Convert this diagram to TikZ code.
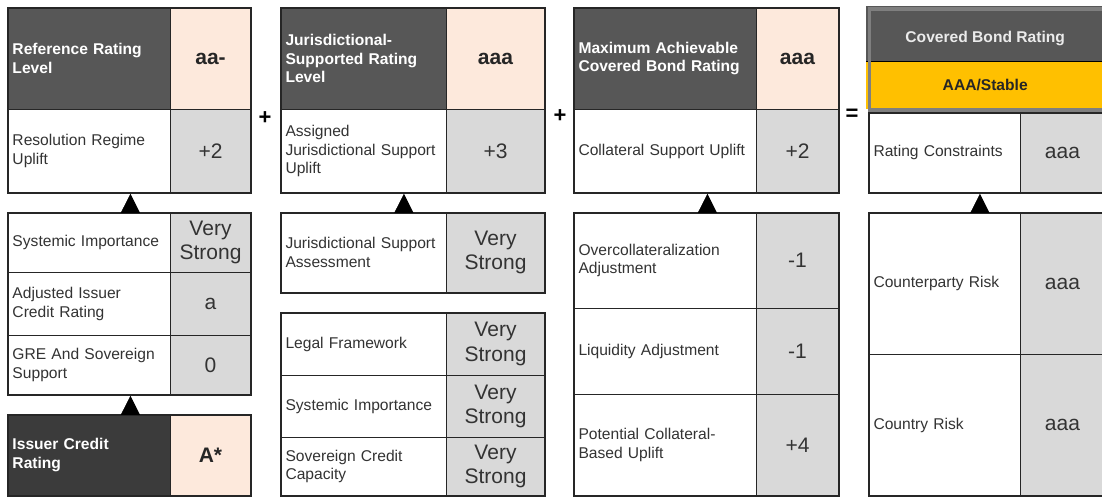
\documentclass[tikz,border=0pt]{standalone}
\usepackage{fontspec}
\setmainfont{Liberation Sans}
\usetikzlibrary{arrows.meta}

\definecolor{lineclr}{HTML}{262626}
\definecolor{txtclr}{HTML}{333333}
\definecolor{hdrgray}{HTML}{575757}
\definecolor{hdrdark}{HTML}{3B3B3B}
\definecolor{peach}{HTML}{FDE9DC}
\definecolor{valgray}{HTML}{D9D9D9}
\definecolor{gold}{HTML}{FFC000}
\definecolor{framegray}{HTML}{7F7F7F}
\newcommand{\labfont}{\fontsize{15.6}{18.8}\selectfont}
\newcommand{\valfont}{\fontsize{21}{24.5}\selectfont}

\begin{document}
\begin{tikzpicture}[
    x=1pt, y=-1pt,
    cell/.style={draw=lineclr, line width=1pt, inner sep=0pt, inner xsep=5pt, anchor=north west},
    lab/.style 2 args={cell, fill=white, text=txtclr, font=\labfont, align=left,
        minimum width=#1, text width=#1-10pt, minimum height=#2},
    val/.style 2 args={cell, fill=valgray, text=txtclr, font=\valfont, align=center,
        minimum width=#1, text width=#1-10pt, minimum height=#2},
    hdr/.style 2 args={lab={#1}{#2}, fill=hdrgray, text=white, font=\bfseries\labfont},
    hval/.style 2 args={val={#1}{#2}, fill=peach, text=black!85, font=\bfseries\valfont},
    box/.style 2 args={draw=lineclr, line width=1.8pt, inner sep=0pt, anchor=north west,
        minimum width=#1, minimum height=#2},
    op/.style={font=\bfseries\fontsize{22}{22}\selectfont, inner sep=0pt},
    tri/.style={-{Triangle[width=19pt, length=19pt]}, line width=0.6pt, black}
]
    \useasboundingbox (0,0) rectangle (1102,497);

    % Column 1: reference rating level
    \node[hdr={163pt}{102pt}] (c1h) at (7,7) {Reference Rating\\Level};
    \node[hval={80pt}{102pt}] (c1hv) at (170,7) {aa-};
    \node[lab={163pt}{83pt}] (c1r) at (7,109) {Resolution Regime\\Uplift};
    \node[val={80pt}{83pt}] (c1rv) at (170,109) {+2};
    \node[lab={163pt}{60pt}] (c1a) at (7,212) {Systemic Importance};
    \node[val={80pt}{60pt}] (c1av) at (170,212) {Very\\Strong};
    \node[lab={163pt}{63pt}] (c1b) at (7,272) {Adjusted Issuer\\Credit Rating};
    \node[val={80pt}{63pt}] (c1bv) at (170,272) {a};
    \node[lab={163pt}{59pt}] (c1c) at (7,335) {GRE And Sovereign\\Support};
    \node[val={80pt}{59pt}] (c1cv) at (170,335) {0};
    \node[hdr={163pt}{81pt}, fill=hdrdark] (c1i) at (7,414) {Issuer Credit\\Rating};
    \node[hval={80pt}{81pt}] (c1iv) at (170,414) {A*};
    \node[box={243pt}{185pt}] (c1top) at (7,7) {};
    \node[box={243pt}{182pt}] (c1mid) at (7,212) {};
    \node[box={243pt}{81pt}] (c1bot) at (7,414) {};

    % Column 2: jurisdictional support
    \node[hdr={166pt}{102pt}] (c2h) at (280,7) {Jurisdictional-\\Supported Rating\\Level};
    \node[hval={98pt}{102pt}] (c2hv) at (446,7) {aaa};
    \node[lab={166pt}{83pt}] (c2r) at (280,109) {Assigned\\Jurisdictional Support\\Uplift};
    \node[val={98pt}{83pt}] (c2rv) at (446,109) {+3};
    \node[lab={166pt}{80pt}] (c2s) at (280,212) {Jurisdictional Support\\Assessment};
    \node[val={98pt}{80pt}] (c2sv) at (446,212) {Very\\Strong};
    \node[lab={166pt}{63pt}] (c2a) at (280,312) {Legal Framework};
    \node[val={98pt}{63pt}] (c2av) at (446,312) {Very\\Strong};
    \node[lab={166pt}{62pt}] (c2b) at (280,375) {Systemic Importance};
    \node[val={98pt}{62pt}] (c2bv) at (446,375) {Very\\Strong};
    \node[lab={166pt}{58pt}] (c2c) at (280,437) {Sovereign Credit\\Capacity};
    \node[val={98pt}{58pt}] (c2cv) at (446,437) {Very\\Strong};
    \node[box={264pt}{185pt}] (c2top) at (280,7) {};
    \node[box={264pt}{80pt}] (c2mid) at (280,212) {};
    \node[box={264pt}{183pt}] (c2bot) at (280,312) {};

    % Column 3: collateral support
    \node[hdr={183pt}{102pt}] (c3h) at (573,7) {Maximum Achievable\\Covered Bond Rating};
    \node[hval={82pt}{102pt}] (c3hv) at (756,7) {aaa};
    \node[lab={183pt}{83pt}] (c3r) at (573,109) {Collateral Support Uplift};
    \node[val={82pt}{83pt}] (c3rv) at (756,109) {+2};
    \node[lab={183pt}{96pt}] (c3a) at (573,212) {Overcollateralization\\Adjustment};
    \node[val={82pt}{96pt}] (c3av) at (756,212) {-1};
    \node[lab={183pt}{86pt}] (c3b) at (573,308) {Liquidity Adjustment};
    \node[val={82pt}{86pt}] (c3bv) at (756,308) {-1};
    \node[lab={183pt}{101pt}] (c3c) at (573,394) {Potential Collateral-\\Based Uplift};
    \node[val={82pt}{101pt}] (c3cv) at (756,394) {+4};
    \node[box={265pt}{185pt}] (c3top) at (573,7) {};
    \node[box={265pt}{283pt}] (c3mid) at (573,212) {};

    % Column 4: covered bond rating
    \node[anchor=north west, fill=hdrgray, text=white!92!black, font=\bfseries\labfont,
        minimum width=238pt, minimum height=55pt, inner sep=0pt,
        text height=22pt, text depth=3.5pt] (c4h) at (866,6) {Covered Bond Rating};
    \node[anchor=north west, fill=gold, text=black!85, font=\bfseries\labfont,
        minimum width=238pt, minimum height=48pt, inner sep=0pt] (c4y) at (866,61) {AAA/Stable};
    \draw[black, line width=1.6pt] (c4h.south west) -- (c4h.south east);
    \node[draw=framegray, line width=3.5pt, anchor=north west, inner sep=0pt,
        minimum width=240pt, minimum height=101pt] (c4frame) at (867.5,7.5) {};
    \node[lab={152pt}{80pt}, inner xsep=4pt] (c4r) at (868,112) {Rating Constraints};
    \node[val={84pt}{80pt}] (c4rv) at (1020,112) {aaa};
    \node[lab={152pt}{142pt}, inner xsep=4pt] (c4a) at (868,212) {Counterparty Risk};
    \node[val={84pt}{142pt}] (c4av) at (1020,212) {aaa};
    \node[lab={152pt}{141pt}, inner xsep=4pt] (c4b) at (868,354) {Country Risk};
    \node[val={84pt}{141pt}] (c4bv) at (1020,354) {aaa};
    \node[box={236pt}{80pt}] (c4top) at (868,112) {};
    \node[box={236pt}{283pt}] (c4mid) at (868,212) {};

    % Operators
    \node[op] (plus1) at (265,118) {+};
    \node[op] (plus2) at (560,116) {+};
    \node[op] (eq) at (852,115) {=};

    % Uplift arrows
    \draw[tri] ([xshift=1pt]c1mid.north) -- ([xshift=1pt]c1top.south);
    \draw[tri] ([xshift=1pt]c1bot.north) -- ([xshift=1pt]c1mid.south);
    \draw[tri] ([xshift=-9pt]c2mid.north) -- ([xshift=-9pt]c2top.south);
    \draw[tri] ([xshift=1pt]c3mid.north) -- ([xshift=1pt]c3top.south);
    \draw[tri] ([xshift=-7pt]c4mid.north) -- ([xshift=-7pt]c4top.south);
\end{tikzpicture}
\end{document}
